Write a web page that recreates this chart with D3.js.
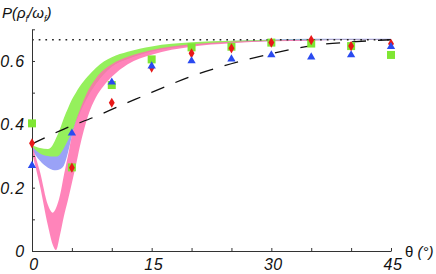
<!DOCTYPE html>
<html>
<head>
<meta charset="utf-8">
<script src="https://cdn.jsdelivr.net/npm/d3@7"></script>
<style>
  body { margin: 0; background: #fff; }
  text { font-family: "Liberation Sans", Arial, sans-serif; }
</style>
</head>
<body>
<div id="chart"></div>
<script>
// theta grid for the shaded bands
var bandTheta = [0, 1, 2, 2.6, 3, 3.5, 4, 4.5, 5, 5.5, 6, 7, 8, 9, 10, 12, 15, 20, 25, 30, 35, 40, 45];
var greenLow  = [0.33, 0.308, 0.3, 0.298, 0.298, 0.305, 0.325, 0.35, 0.375, 0.41, 0.44, 0.49, 0.528, 0.56, 0.583, 0.607, 0.631, 0.65, 0.659, 0.664, 0.666, 0.666, 0.666];
var greenHigh = [0.335, 0.325, 0.322, 0.335, 0.355, 0.385, 0.42, 0.45, 0.478, 0.5, 0.52, 0.552, 0.578, 0.598, 0.612, 0.629, 0.646, 0.659, 0.664, 0.666, 0.667, 0.667, 0.667];
var blueLow   = [0.32, 0.285, 0.263, 0.256, 0.255, 0.258, 0.27, 0.31, 0.362, 0.405, 0.435, 0.487, 0.527, 0.558, 0.582, 0.606, 0.63, 0.649, 0.658, 0.663, 0.665, 0.666, 0.666];
var pinkLow   = [0.31, 0.205, 0.08, 0.02, 0.003, 0.05, 0.11, 0.16, 0.215, 0.27, 0.33, 0.425, 0.485, 0.522, 0.55, 0.59, 0.62, 0.645, 0.656, 0.662, 0.665, 0.666, 0.666];
var pinkHigh  = [0.335, 0.25, 0.145, 0.121, 0.135, 0.175, 0.24, 0.3, 0.365, 0.41, 0.445, 0.505, 0.545, 0.572, 0.59, 0.613, 0.635, 0.653, 0.661, 0.665, 0.666, 0.667, 0.667];

// dashed curve readings
var dashTheta = [0, 4, 8, 11, 14, 17, 20, 24, 30, 35, 40, 45];
var dashValue = [0.338, 0.385, 0.425, 0.458, 0.49, 0.522, 0.552, 0.584, 0.623, 0.648, 0.66, 0.667];

// measured points
var pointTheta = [0, 5, 10, 15, 20, 25, 30, 35, 40, 45];
var squares   = [0.403, 0.264, 0.524, 0.605, 0.643, 0.645, 0.658, 0.655, 0.647, 0.619];
var diamonds  = [0.340, 0.263, 0.468, 0.579, 0.624, 0.640, 0.658, 0.666, 0.647, 0.654];
var triangles = [0.270, 0.372, 0.533, 0.584, 0.600, 0.606, 0.619, 0.612, 0.619, 0.645];

var limitValue = 2 / 3;
var xTicks = [0, 15, 30, 45];
var yTicks = [0, 0.2, 0.4, 0.6];

var W = 436, H = 274;
var svg = d3.select("#chart").append("svg")
  .attr("width", W)
  .attr("height", H);

var x = d3.scaleLinear().domain([0, 45]).range([32, 391]);
var y = d3.scaleLinear().domain([0, 0.7]).range([251, 29.3]);

function band(low, high) {
  return bandTheta.map(function(t, i) { return { t: t, lo: low[i], hi: high[i] }; });
}
var area = d3.area()
  .x(function(d) { return x(d.t); })
  .y0(function(d) { return y(d.lo); })
  .y1(function(d) { return y(d.hi); })
  .curve(d3.curveMonotoneX);

var blueHigh = greenLow.map(function(v) { return v + 0.004; });

svg.append("path").datum(band(blueLow, blueHigh))
  .attr("d", area).attr("fill", "#9aa2f7");
svg.append("path").datum(band(greenLow, greenHigh))
  .attr("d", area).attr("fill", "#95f05c");
svg.append("path").datum(band(pinkLow, pinkHigh))
  .attr("d", area).attr("fill", "#ff6fae").attr("fill-opacity", 0.85);

// dotted limit line
svg.append("line")
  .attr("x1", x(0)).attr("x2", x(45))
  .attr("y1", y(limitValue)).attr("y2", y(limitValue))
  .attr("stroke", "#222").attr("stroke-width", 1.5)
  .attr("stroke-dasharray", "1.7,5");

// dashed curve
svg.append("path")
  .datum(dashTheta.map(function(t, i) { return [t, dashValue[i]]; }))
  .attr("fill", "none")
  .attr("stroke", "#111")
  .attr("stroke-width", 1.3)
  .attr("stroke-dasharray", "14,12")
  .attr("d", d3.line()
    .x(function(d) { return x(d[0]); })
    .y(function(d) { return y(d[1]); })
    .curve(d3.curveMonotoneX));

// axes
svg.append("g").attr("transform", "translate(0," + y(0) + ")")
  .call(d3.axisTop(x).tickValues(d3.range(0, 46, 5)).tickSize(3).tickFormat("").tickSizeOuter(0));
svg.append("g").attr("transform", "translate(" + x(0) + ",0)")
  .call(d3.axisRight(y).tickValues(d3.range(0, 0.71, 0.1)).tickSize(3).tickFormat("").tickSizeOuter(0));
svg.selectAll(".domain, .tick line").attr("stroke", "#333").attr("stroke-width", 1);

// tick labels
svg.selectAll(".xlab").data(xTicks).enter().append("text")
  .attr("x", function(d) { return x(d) + 2; })
  .attr("y", 270)
  .attr("text-anchor", "middle")
  .attr("font-size", 16).attr("font-style", "italic")
  .attr("letter-spacing", 0.5)
  .attr("fill", "#111")
  .text(function(d) { return d; });
svg.selectAll(".ylab").data(yTicks).enter().append("text")
  .attr("x", 25)
  .attr("y", function(d) { return y(d) + 6; })
  .attr("text-anchor", "end")
  .attr("font-size", 16).attr("font-style", "italic")
  .attr("letter-spacing", 0.8)
  .attr("fill", "#111")
  .text(function(d) { return d === 0 ? "0" : d3.format(".1f")(d); });

// axis titles
var yt = svg.append("text").attr("x", 2).attr("y", 18)
  .attr("font-size", 15).attr("font-style", "italic").attr("fill", "#111");
yt.append("tspan").text("P(ρ");
yt.append("tspan").attr("font-size", 9).attr("dy", 4).text("f");
yt.append("tspan").attr("dy", -4).text("/ω");
yt.append("tspan").attr("font-size", 9).attr("dy", 4).text("f");
yt.append("tspan").attr("dy", -4).text(")");

var xt = svg.append("text").attr("x", 405).attr("y", 257)
  .attr("font-size", 15).attr("fill", "#111");
xt.append("tspan").text("θ ");
xt.append("tspan").attr("font-style", "italic").text("(°)");

// markers
function marks(vals, type, size, color) {
  svg.append("g").selectAll("path").data(vals).enter().append("path")
    .attr("transform", function(d, i) { return "translate(" + x(pointTheta[i]) + "," + y(d) + ")"; })
    .attr("d", d3.symbol().type(type).size(size))
    .attr("fill", color);
}
marks(squares, d3.symbolSquare, 64, "#7fe633");
marks(diamonds, d3.symbolDiamond, 30, "#e81818");
marks(triangles, d3.symbolTriangle, 30, "#2a4af0");
</script>
</body>
</html>
